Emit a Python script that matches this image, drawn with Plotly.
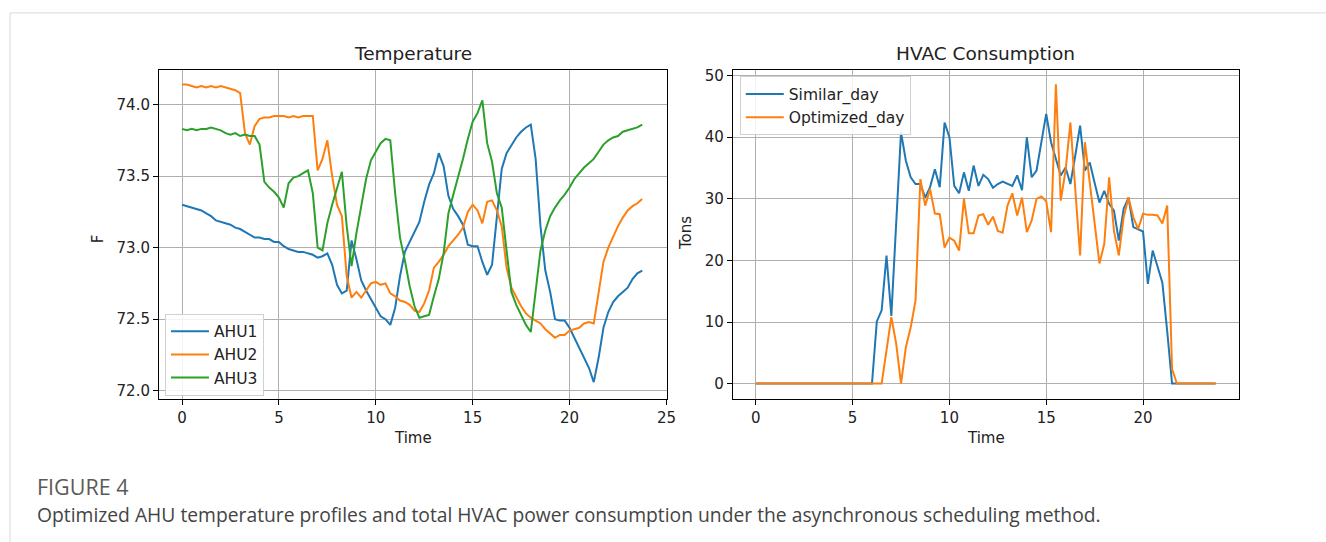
import plotly.graph_objects as go

# ---------------- data ----------------
time_h = [i * 0.25 for i in range(96)]

ahu1 = [73.30, 73.29, 73.28, 73.27, 73.26, 73.24, 73.22, 73.19, 73.18, 73.17, 73.16, 73.14,
        73.13, 73.11, 73.09, 73.07, 73.07, 73.06, 73.06, 73.04, 73.04, 73.01, 72.99, 72.98,
        72.97, 72.97, 72.96, 72.95, 72.93, 72.94, 72.96, 72.88, 72.74, 72.68, 72.70, 73.05,
        72.92, 72.77, 72.70, 72.64, 72.59, 72.52, 72.50, 72.46, 72.58, 72.80, 72.97, 73.04,
        73.10, 73.18, 73.32, 73.44, 73.52, 73.66, 73.57, 73.36, 73.27, 73.22, 73.16, 73.02,
        73.01, 73.01, 72.90, 72.81, 72.88, 73.20, 73.55, 73.66, 73.72, 73.77, 73.81, 73.84,
        73.86, 73.62, 73.15, 72.84, 72.69, 72.50, 72.49, 72.49, 72.44, 72.37, 72.29, 72.22,
        72.16, 72.06, 72.23, 72.44, 72.55, 72.62, 72.66, 72.69, 72.72, 72.78, 72.82, 72.84]

ahu2 = [74.14, 74.14, 74.13, 74.12, 74.13, 74.12, 74.13, 74.12, 74.13, 74.12, 74.11, 74.10,
        74.08, 73.80, 73.72, 73.85, 73.90, 73.91, 73.91, 73.92, 73.92, 73.92, 73.91, 73.92,
        73.91, 73.92, 73.92, 73.92, 73.54, 73.62, 73.75, 73.50, 73.30, 73.22, 72.80, 72.65,
        72.69, 72.65, 72.70, 72.75, 72.76, 72.74, 72.75, 72.68, 72.66, 72.63, 72.62, 72.60,
        72.56, 72.55, 72.61, 72.70, 72.86, 72.90, 72.95, 73.01, 73.05, 73.09, 73.14, 73.25,
        73.30, 73.26, 73.17, 73.32, 73.33, 73.26, 73.15, 72.86, 72.72, 72.65, 72.59, 72.54,
        72.51, 72.49, 72.47, 72.43, 72.40, 72.37, 72.39, 72.39, 72.42, 72.43, 72.44, 72.47,
        72.48, 72.47, 72.68, 72.90, 73.00, 73.08, 73.15, 73.21, 73.26, 73.29, 73.31, 73.34]

ahu3 = [73.83, 73.82, 73.83, 73.82, 73.83, 73.83, 73.84, 73.83, 73.82, 73.80, 73.79, 73.80,
        73.78, 73.79, 73.78, 73.78, 73.72, 73.46, 73.42, 73.39, 73.35, 73.28, 73.45, 73.49,
        73.50, 73.52, 73.54, 73.38, 73.00, 72.98, 73.17, 73.30, 73.42, 73.53, 73.15, 72.87,
        73.10, 73.30, 73.48, 73.61, 73.67, 73.73, 73.76, 73.75, 73.38, 73.07, 72.91, 72.73,
        72.59, 72.51, 72.52, 72.53, 72.66, 72.78, 72.96, 73.24, 73.37, 73.49, 73.62, 73.76,
        73.88, 73.94, 74.03, 73.73, 73.60, 73.38, 73.28, 72.98, 72.69, 72.60, 72.53, 72.46,
        72.41, 72.68, 72.98, 73.12, 73.22, 73.28, 73.33, 73.37, 73.42, 73.48, 73.52, 73.56,
        73.59, 73.62, 73.67, 73.72, 73.75, 73.77, 73.78, 73.81, 73.82, 73.83, 73.84, 73.86]

similar_day = [0] * 25 + [
    10.1, 11.9, 20.8, 11.0, 26.0, 40.8, 36.2, 33.5, 32.4, 32.4, 30.2, 31.9,
    34.8, 31.9, 42.4, 40.0, 32.1, 30.9, 34.3, 31.3, 35.4, 32.1, 33.9, 33.2,
    31.8, 32.4, 32.8, 32.4, 32.1, 33.8, 31.4, 40.0, 33.5, 34.6, 38.9, 43.8,
    39.2, 36.4, 33.8, 35.1, 32.4, 37.0, 41.9, 34.6, 35.9, 32.6, 29.4, 31.3,
    29.2, 28.1, 23.2, 28.4, 30.2, 25.4, 25.1, 24.7, 16.2, 21.6, 19.0, 16.4,
    8.5, 0.0] + [0] * 9

optimized_day = [0] * 27 + [
    5.4, 10.8, 6.5, 0.0, 5.9, 9.1, 13.5, 33.2, 28.9, 31.6, 27.6, 27.5,
    22.1, 23.7, 23.2, 21.6, 30.0, 24.4, 24.4, 27.3, 27.5, 25.8, 27.1, 24.8,
    24.5, 28.9, 30.9, 27.3, 30.2, 24.6, 26.5, 30.0, 30.4, 29.6, 24.6, 48.6,
    29.7, 34.6, 42.4, 31.9, 20.8, 39.2, 32.4, 25.9, 19.5, 22.7, 33.5, 24.8,
    20.8, 27.0, 30.2, 27.0, 25.1, 27.6, 27.4, 27.4, 27.3, 26.0, 28.9, 2.4,
    0.0] + [0] * 8

temp_names = ["AHU1", "AHU2", "AHU3"]
hvac_names = ["Similar_day", "Optimized_day"]
colors = ["#1f77b4", "#ff7f0e", "#2ca02c"]

# ---------------- figure ----------------
W, H = 1326, 542
XSCALE = 0.9935          # observed horizontal compression of the rendered page
FONT = "DejaVu Sans"
TXT = "#222"

def px_x(p):
    return p / (W * XSCALE)

def px_y(p):
    return 1 - p / H

fig = go.Figure()

for name, vals, c in zip(temp_names, [ahu1, ahu2, ahu3], colors):
    fig.add_trace(go.Scatter(x=time_h, y=vals, mode="lines", name=name,
                             line=dict(color=c, width=2), xaxis="x", yaxis="y",
                             legend="legend"))

for name, vals, c in zip(hvac_names, [similar_day, optimized_day], colors[:2]):
    fig.add_trace(go.Scatter(x=time_h, y=vals, mode="lines", name=name,
                             line=dict(color=c, width=2), xaxis="x2", yaxis="y2",
                             legend="legend2"))

ydom = [px_y(398.5), px_y(67)]
axis_common = dict(showline=True, linecolor="black", linewidth=1, mirror=True,
                   ticks="outside", ticklen=5, tickcolor="black", tickwidth=1,
                   showgrid=True, gridcolor="#b0b0b0", gridwidth=1, zeroline=False,
                   tickfont=dict(family=FONT, size=15, color=TXT))

legend_common = dict(xanchor="left", yanchor="top",
                     bgcolor="rgba(255,255,255,0.85)", bordercolor="#d0d0d0", borderwidth=1,
                     font=dict(family=FONT, size=15.5, color=TXT), itemwidth=38,
                     tracegroupgap=0)

fig.update_layout(
    width=W, height=H,
    margin=dict(l=0, r=0, t=0, b=0),
    paper_bgcolor="white", plot_bgcolor="white",
    font=dict(family=FONT, color=TXT),
    xaxis=dict(domain=[px_x(159), px_x(667)], range=[-1.19, 25.02], tickvals=[0, 5, 10, 15, 20, 25],
               anchor="y", **axis_common),
    yaxis=dict(domain=ydom, range=[71.945, 74.245], tickvals=[72.0, 72.5, 73.0, 73.5, 74.0],
               ticktext=["72.0", "72.5", "73.0", "73.5", "74.0"], anchor="x", **axis_common),
    xaxis2=dict(domain=[px_x(733), px_x(1239)], range=[-1.19, 24.94], tickvals=[0, 5, 10, 15, 20],
                anchor="y2", **axis_common),
    yaxis2=dict(domain=ydom, range=[-2.43, 51.0], tickvals=[0, 10, 20, 30, 40, 50],
                anchor="x2", **axis_common),
    legend=dict(x=px_x(165), y=px_y(313), entrywidth=62, **legend_common),
    legend2=dict(x=px_x(740), y=px_y(74), entrywidth=115, **legend_common),
    showlegend=True,
)

def ann(text, x, y, size, color=TXT, family=FONT, xanchor="center", angle=0):
    return dict(text=text, x=px_x(x), y=px_y(y), xref="paper", yref="paper",
                xanchor=xanchor, yanchor="middle", showarrow=False, textangle=angle,
                font=dict(family=family, size=size, color=color))

annotations = [
    ann("Temperature", 413, 51, 18.5),
    ann("HVAC Consumption", 986, 51, 18.5),
    ann("Time", 413, 438, 15),
    ann("Time", 986, 438, 15),
    ann("F", 98, 237, 15, angle=-90),
    ann("Tons", 686, 232, 15, angle=-90),
    ann("FIGURE 4", 35, 487, 21.5, color="#5a5a5a", family="Open Sans", xanchor="left"),
    ann("Optimized AHU temperature profiles and total HVAC power consumption under the asynchronous scheduling method.",
        35, 515, 19.3, color="#444", family="Open Sans", xanchor="left"),
]
fig.update_layout(annotations=annotations)

# card frame
fig.add_shape(type="line", xref="paper", yref="paper", x0=px_x(10), x1=1.02, y0=px_y(10), y1=px_y(10),
              line=dict(color="#d9d9d9", width=1))
fig.add_shape(type="line", xref="paper", yref="paper", x0=px_x(10), x1=px_x(10), y0=px_y(10), y1=-0.02,
              line=dict(color="#d9d9d9", width=1))

fig.write_html("out.html", config={"displayModeBar": False},
               post_script="document.documentElement.style.overflow='hidden';"
                           "document.body.style.margin='0px';document.body.style.overflow='hidden';")
